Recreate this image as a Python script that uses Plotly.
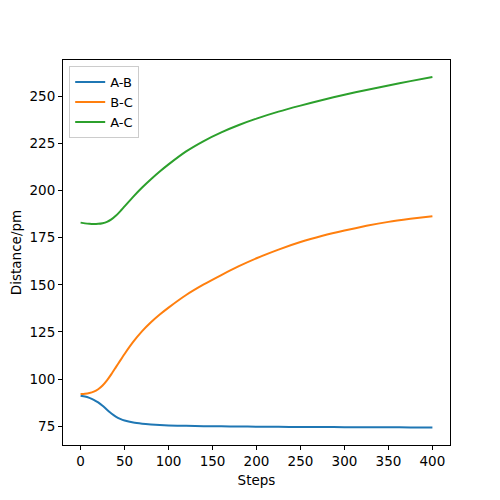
import plotly.graph_objects as go

steps = [0, 5, 10, 15, 20, 25, 30, 35, 40, 45, 50, 60, 70, 80, 90, 100, 120, 140, 160, 180, 200, 225, 250, 275, 300, 325, 350, 375, 400]

ab = [91.1, 90.7, 90.0, 89.0, 87.6, 85.8, 83.7, 81.7, 80.1, 78.9, 78.0, 76.9, 76.3, 75.9, 75.6, 75.4, 75.15, 75.0, 74.9, 74.8, 74.72, 74.65, 74.58, 74.52, 74.47, 74.42, 74.38, 74.34, 74.3]
bc = [92.0, 92.2, 92.6, 93.3, 94.6, 96.6, 99.3, 102.6, 106.2, 109.8, 113.3, 119.8, 125.4, 130.1, 134.2, 137.9, 144.6, 150.2, 155.2, 159.9, 164.1, 168.7, 172.7, 176.0, 178.8, 181.3, 183.4, 185.0, 186.4]
ac = [183.0, 182.6, 182.35, 182.25, 182.35, 182.7, 183.4, 184.7, 186.6, 189.0, 191.6, 196.8, 201.6, 206.0, 210.1, 213.9, 220.8, 226.3, 230.9, 234.8, 238.2, 241.9, 245.1, 248.1, 250.9, 253.4, 255.8, 258.1, 260.3]

x_ticks = [0, 50, 100, 150, 200, 250, 300, 350, 400]
y_ticks = [75, 100, 125, 150, 175, 200, 225, 250]

series = [("A-B", ab, "#1f77b4"), ("B-C", bc, "#ff7f0e"), ("A-C", ac, "#2ca02c")]

fig = go.Figure()
for name, vals, col in series:
    fig.add_trace(go.Scatter(x=steps, y=vals, mode="lines", name=name,
                             line=dict(color=col, width=2, shape="spline", smoothing=0.5)))

axis_common = dict(showgrid=False, zeroline=False, showline=True, linecolor="black",
                   linewidth=1, mirror=True, ticks="outside", ticklen=4, tickcolor="black",
                   automargin=False,
                   tickfont=dict(family="DejaVu Sans", size=13.5, color="black"))

fig.update_layout(
    width=500, height=500,
    margin=dict(l=55, r=58, t=52, b=63),
    plot_bgcolor="white", paper_bgcolor="white",
    font=dict(family="DejaVu Sans", size=13.5, color="black"),
    xaxis=dict(range=[-20, 420], tickvals=x_ticks,
               title=dict(text="Steps", standoff=7, font=dict(size=13.5)), **axis_common),
    yaxis=dict(range=[65.0, 269.3], tickvals=y_ticks,
               title=dict(text="Distance/pm", standoff=8, font=dict(size=13.5)), **axis_common),
    legend=dict(x=0.016, y=0.984, xanchor="left", yanchor="top",
                bgcolor="rgba(255,255,255,0.8)", bordercolor="#cccccc", borderwidth=1,
                font=dict(family="DejaVu Sans", size=13), tracegroupgap=0),
    showlegend=True,
)

fig.write_html("out.html")
